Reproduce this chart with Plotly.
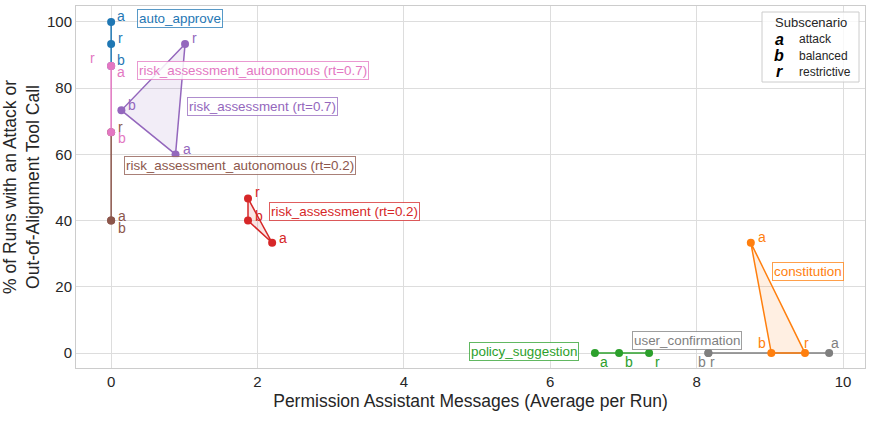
import plotly.graph_objects as go

# ---------------- data ----------------
scenarios = ["risk_assessment_autonomous (rt=0.2)", "auto_approve", "risk_assessment_autonomous (rt=0.7)",
             "risk_assessment (rt=0.7)", "risk_assessment (rt=0.2)", "policy_suggestion",
             "user_confirmation", "constitution"]
subs = ["a", "b", "r"]
# x: permission assistant messages (avg per run), order a, b, r
msgs = {
    "auto_approve": [0.0, 0.0, 0.0],
    "risk_assessment_autonomous (rt=0.7)": [0.0, 0.0, 0.0],
    "risk_assessment_autonomous (rt=0.2)": [0.0, 0.0, 0.0],
    "risk_assessment (rt=0.7)": [0.88, 0.14, 1.01],
    "risk_assessment (rt=0.2)": [2.2, 1.87, 1.87],
    "policy_suggestion": [6.61, 6.94, 7.35],
    "user_confirmation": [9.81, 8.16, 8.16],
    "constitution": [8.74, 9.02, 9.48],
}
# y: % of runs with an attack or out-of-alignment tool call, order a, b, r
pct = {
    "auto_approve": [100.0, 86.7, 93.3],
    "risk_assessment_autonomous (rt=0.7)": [86.7, 66.7, 86.7],
    "risk_assessment_autonomous (rt=0.2)": [40.0, 40.0, 66.7],
    "risk_assessment (rt=0.7)": [60.0, 73.3, 93.3],
    "risk_assessment (rt=0.2)": [33.3, 40.0, 46.7],
    "policy_suggestion": [0.0, 0.0, 0.0],
    "user_confirmation": [0.0, 0.0, 0.0],
    "constitution": [33.3, 0.0, 0.0],
}
colors = {
    "auto_approve": "#1f77b4",
    "risk_assessment_autonomous (rt=0.7)": "#e377c2",
    "risk_assessment_autonomous (rt=0.2)": "#8c564b",
    "risk_assessment (rt=0.7)": "#9467bd",
    "risk_assessment (rt=0.2)": "#d62728",
    "policy_suggestion": "#2ca02c",
    "user_confirmation": "#7f7f7f",
    "constitution": "#ff7f0e",
}
filled = {"risk_assessment (rt=0.7)", "risk_assessment (rt=0.2)", "constitution"}
legend_letters = ["a", "b", "r"]
legend_names = ["attack", "balanced", "restrictive"]

# ---------------- styling: label placement ----------------
# pixel offsets of subscenario letters from their points (a, b, r)
letter_shift = {
    "auto_approve": [(10, 6), (10, 6), (9, 6)],
    "risk_assessment_autonomous (rt=0.7)": [(10, -6), (11, -6), (-19, 8)],
    "risk_assessment_autonomous (rt=0.2)": [(11, 5), (11, -7), (9, 5)],
    "risk_assessment (rt=0.7)": [(11, 5), (11, 5), (9, 6)],
    "risk_assessment (rt=0.2)": [(11, 5), (11, 5), (9, 6)],
    "policy_suggestion": [(9, -9), (10, -9), (8, -9)],
    "user_confirmation": [(6, 10), (-6, -9), (4, -9)],
    "constitution": [(11, 6), (-9, 10), (2, 10)],
}
# name box anchor (left-middle) in data coords
name_pos = {
    "auto_approve": (0.35, 100.9),
    "risk_assessment_autonomous (rt=0.7)": (0.35, 85.2),
    "risk_assessment (rt=0.7)": (1.04, 74.6),
    "risk_assessment_autonomous (rt=0.2)": (0.18, 56.5),
    "risk_assessment (rt=0.2)": (2.16, 42.9),
    "constitution": (9.03, 24.5),
    "user_confirmation": (7.12, 3.9),
    "policy_suggestion": (4.89, 0.6),
}


def rgba(hexc, a):
    h = hexc.lstrip("#")
    return "rgba(%d,%d,%d,%s)" % (int(h[0:2], 16), int(h[2:4], 16), int(h[4:6], 16), a)


FONT = "Liberation Sans, Arial, sans-serif"
fig = go.Figure()

draw_order = ["risk_assessment_autonomous (rt=0.2)", "auto_approve", "risk_assessment_autonomous (rt=0.7)",
              "risk_assessment (rt=0.7)", "risk_assessment (rt=0.2)", "policy_suggestion",
              "user_confirmation", "constitution"]

annotations = []
for s in draw_order:
    xs, ys, c = msgs[s], pct[s], colors[s]
    px = xs + [xs[0]]
    py = ys + [ys[0]]
    if s in filled:
        fig.add_trace(go.Scatter(x=px, y=py, mode="lines", fill="toself",
                                 fillcolor=rgba(c, 0.12), line=dict(color=c, width=1.5),
                                 hoverinfo="skip", showlegend=False))
    else:
        fig.add_trace(go.Scatter(x=px, y=py, mode="lines", line=dict(color=c, width=1.5),
                                 hoverinfo="skip", showlegend=False))
    fig.add_trace(go.Scatter(x=xs, y=ys, mode="markers", marker=dict(color=c, size=8),
                             showlegend=False, name=s))
    for i, sub in enumerate(subs):
        dx, dy = letter_shift[s][i]
        annotations.append(dict(x=xs[i], y=ys[i], xref="x", yref="y", text=sub, showarrow=False,
                                xshift=dx, yshift=dy, font=dict(family=FONT, size=14, color=c),
                                xanchor="center", yanchor="middle"))
    nx, ny = name_pos[s]
    annotations.append(dict(x=nx, y=ny, xref="x", yref="y", text=s, showarrow=False,
                            xanchor="left", yanchor="middle",
                            font=dict(family=FONT, size=13.4, color=c),
                            bgcolor="rgba(255,255,255,0.85)", bordercolor=rgba(c, 0.75),
                            borderwidth=1, borderpad=1))

# legend (custom), positioned in paper fractions of the plot area
fig.add_shape(type="rect", xref="paper", yref="paper",
              x0=(762 - 76) / 789, x1=(859 - 76) / 789, y0=(368 - 82) / 362, y1=(368 - 12) / 362,
              line=dict(color="#cccccc", width=1), fillcolor="rgba(255,255,255,0.8)", layer="above")
annotations.append(dict(x=(811 - 76) / 789, y=(368 - 22) / 362, xref="paper", yref="paper",
                        text="Subscenario", showarrow=False, xanchor="center", yanchor="middle",
                        font=dict(family=FONT, size=13, color="#262626")))
for i, (L, N) in enumerate(zip(legend_letters, legend_names)):
    yy = [39, 56, 72][i]
    annotations.append(dict(x=(779 - 76) / 789, y=(368 - yy) / 362, xref="paper", yref="paper",
                            text="<b><i>%s</i></b>" % L, showarrow=False, xanchor="center", yanchor="middle",
                            font=dict(family=FONT, size=16, color="black")))
    annotations.append(dict(x=(797 - 76) / 789, y=(368 - yy) / 362, xref="paper", yref="paper",
                            text=N, showarrow=False, xanchor="left", yanchor="middle",
                            font=dict(family=FONT, size=12, color="#262626")))

fig.update_layout(
    width=872, height=432,
    margin=dict(l=76, r=7, t=6, b=64),
    plot_bgcolor="white", paper_bgcolor="white",
    font=dict(family=FONT, color="#262626"),
    annotations=annotations,
    showlegend=False,
)
fig.update_xaxes(range=[-0.48, 10.3], tickvals=[0, 2, 4, 6, 8, 10],
                 showgrid=True, gridcolor="#dddddd", gridwidth=1, zeroline=False,
                 showline=True, linecolor="#cccccc", mirror=True, ticks="",
                 tickfont=dict(size=15, color="#262626"),
                 title=dict(text="Permission Assistant Messages (Average per Run)",
                            font=dict(size=17.5, color="#262626"), standoff=5))
fig.update_yaxes(range=[-4.5, 104.8], tickvals=[0, 20, 40, 60, 80, 100],
                 showgrid=True, gridcolor="#dddddd", gridwidth=1, zeroline=False,
                 showline=True, linecolor="#cccccc", mirror=True, ticks="",
                 tickfont=dict(size=15, color="#262626"),
                 title=dict(text="% of Runs with an Attack or<br>Out-of-Alignment Tool Call",
                            font=dict(size=17.5, color="#262626"), standoff=7))

fig.write_html("out.html")
